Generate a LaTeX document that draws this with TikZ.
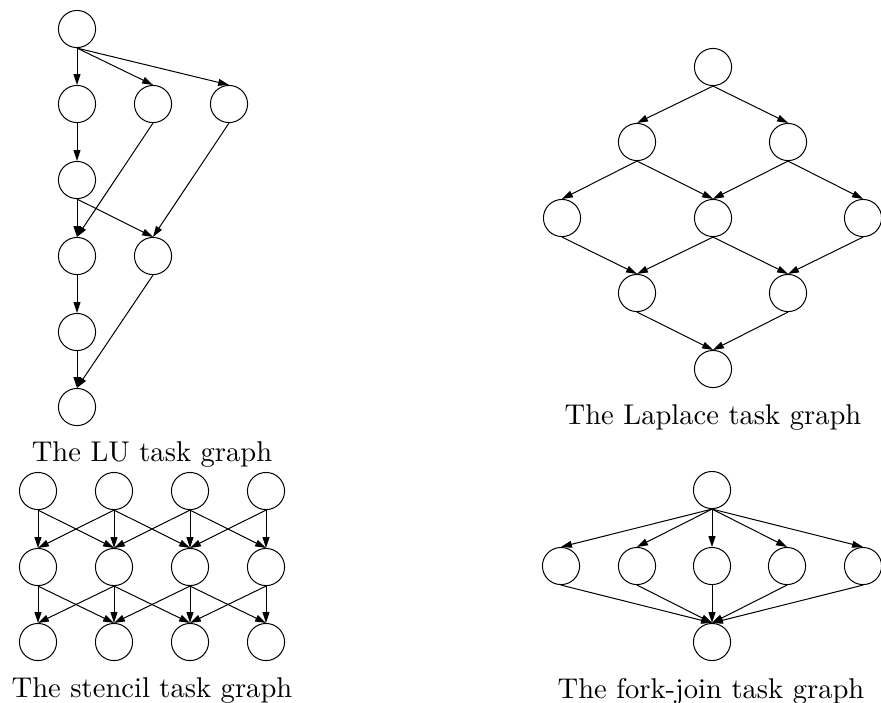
\documentclass[tikz,border=0pt]{standalone}
\usetikzlibrary{arrows.meta}
\begin{document}
\begin{tikzpicture}[x=0.35pt,y=-0.35pt,line width=0.35pt,
  tnode/.style={circle,draw,inner sep=0pt,minimum size=13pt},
  edge/.style={-{Triangle[length=3.8pt,width=2.4pt]}},
  gcap/.style={anchor=base,font=\fontsize{10}{12}\selectfont}]
\useasboundingbox (0,0) rectangle (881,702);
% LU task graph
\node[tnode] (l1) at (77,29) {};
\node[tnode] (l2) at (77,104) {};
\node[tnode] (l3) at (153,104) {};
\node[tnode] (l4) at (229,104) {};
\node[tnode] (l5) at (77,180) {};
\node[tnode] (l6) at (77,256) {};
\node[tnode] (l7) at (153,256) {};
\node[tnode] (l8) at (77,332) {};
\node[tnode] (l9) at (77,407) {};
\foreach \a/\b in {l1/l2,l1/l3,l1/l4,l2/l5,l3/l6,l4/l7,l5/l6,l5/l7,l6/l8,l7/l9,l8/l9}
  \draw[edge] (\a.south) -- (\b.north);
\node[gcap] (lucap) at (152,461) {The LU task graph};
% Laplace task graph
\node[tnode] (a1) at (713,67) {};
\node[tnode] (a2) at (637,142) {};
\node[tnode] (a3) at (788,142) {};
\node[tnode] (a4) at (562,218) {};
\node[tnode] (a5) at (713,218) {};
\node[tnode] (a6) at (863,218) {};
\node[tnode] (a7) at (637,293) {};
\node[tnode] (a8) at (788,293) {};
\node[tnode] (a9) at (713,369) {};
\foreach \a/\b in {a1/a2,a1/a3,a2/a4,a2/a5,a3/a5,a3/a6,a4/a7,a5/a7,a5/a8,a6/a8,a7/a9,a8/a9}
  \draw[edge] (\a.south) -- (\b.north);
\node[gcap] (lapcap) at (713,424) {The Laplace task graph};
% Stencil task graph
\foreach \r/\y in {1/491,2/567,3/642}
  \foreach \c/\x in {1/38,2/114,3/190,4/266}
    \node[tnode] (s\r\c) at (\x,\y) {};
\foreach \r/\n in {1/2,2/3}{
  \foreach \c in {1,2,3,4}{
    \draw[edge] (s\r\c.south) -- (s\n\c.north);
  }
  \foreach \c/\d in {1/2,2/3,3/4}{
    \draw[edge] (s\r\c.south) -- (s\n\d.north);
    \draw[edge] (s\r\d.south) -- (s\n\c.north);
  }
}
\node[gcap] (stcap) at (152,697) {The stencil task graph};
% Fork-join task graph
\node[tnode] (f0) at (712,490) {};
\foreach \i/\x in {1/561,2/637,3/712,4/787,5/863}
  \node[tnode] (m\i) at (\x,566) {};
\node[tnode] (fb) at (712,642) {};
\foreach \i in {1,...,5}{
  \draw[edge] (f0.south) -- (m\i.north);
  \draw[edge] (m\i.south) -- (fb.north);
}
\node[gcap] (fjcap) at (711,698) {The fork-join task graph};
\end{tikzpicture}
\end{document}
